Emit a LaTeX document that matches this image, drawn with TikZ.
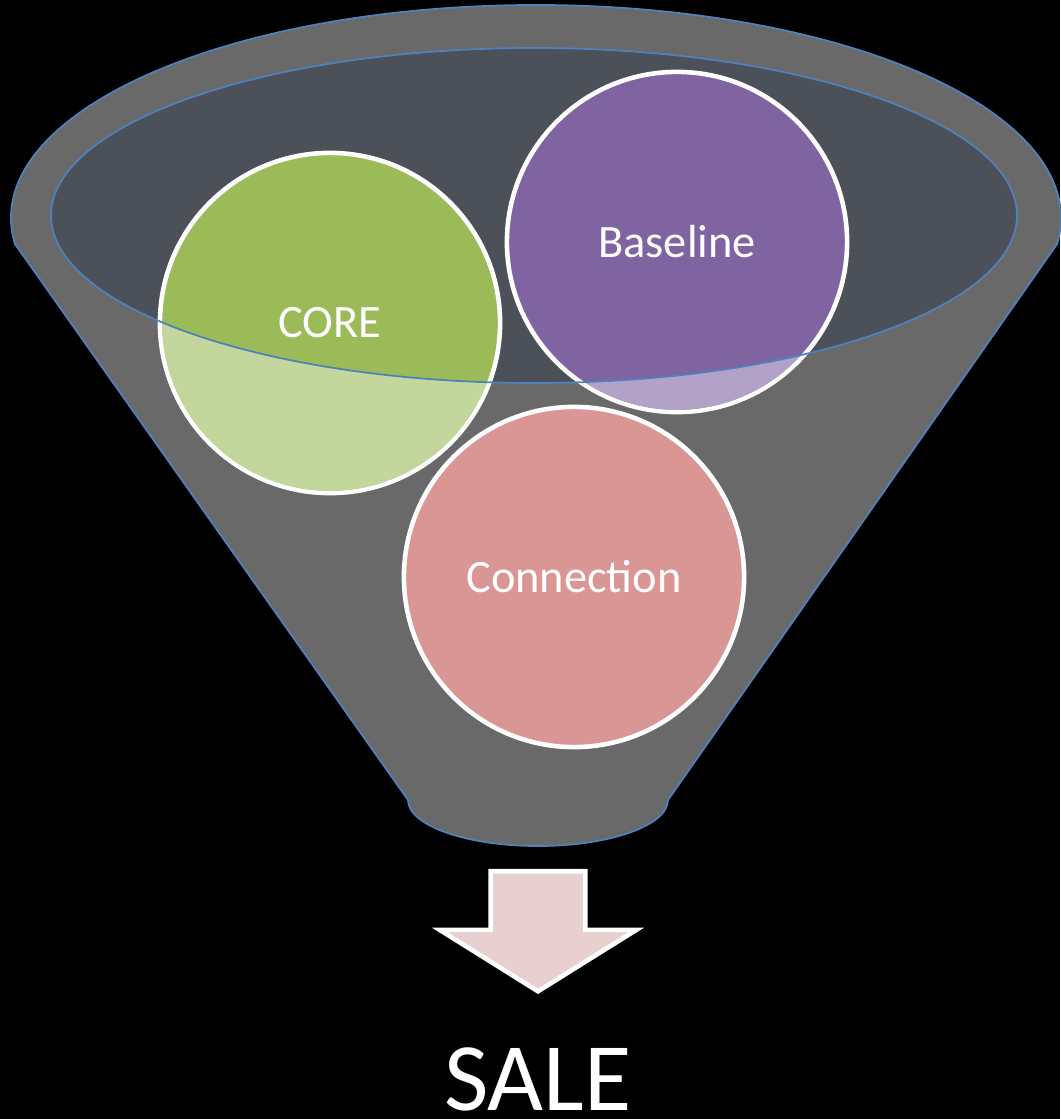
\documentclass[tikz,border=0pt]{standalone}
\usepackage{fontspec}
\setmainfont{Carlito}
\usetikzlibrary{shapes.arrows}
\definecolor{funnelgray}{HTML}{696969}
\definecolor{mouthgray}{HTML}{4C5059}
\definecolor{rimblue}{HTML}{4F81BD}
\definecolor{coregreen}{HTML}{9BBB59}
\definecolor{corelight}{HTML}{C3D69B}
\definecolor{basepurple}{HTML}{8064A2}
\definecolor{baselight}{HTML}{B3A2C7}
\definecolor{connpink}{HTML}{D99694}
\definecolor{salepink}{HTML}{E8D0D0}
\tikzset{
  bubble/.style={circle, draw=white, line width=1.3pt, minimum size=3.4cm, text=white, font=\fontsize{13.2}{16}\selectfont},
  rim/.style={rimblue, line width=0.5pt}
}

\begin{document}
\begin{tikzpicture}[x=0.01cm, y=-0.01cm]
  \useasboundingbox (0,0) rectangle (1060,1119);
  \fill[black] (0,0) rectangle (1060,1119);
  \draw[rim, fill=funnelgray] (14.91,243.96) arc[start angle=173, end angle=367, x radius=525, y radius=213] -- (668,800) arc[start angle=0, end angle=180, x radius=130, y radius=46] -- cycle;
  \fill[mouthgray] (534,215.5) ellipse[x radius=483, y radius=167.5];

  \node[bubble, fill=coregreen] (core) at (330,323) {CORE};
  \node[bubble, fill=basepurple] (baseline) at (677,242) {Baseline};
  \node[bubble, fill=connpink] (connection) at (574,577) {Connection};

  \foreach \c/\col in {core/corelight, baseline/baselight} {
    \begin{scope}
      \clip (\c.center) circle[radius=168];
      \fill[\col, even odd rule] (\c.center) circle[radius=170] (534,215.5) ellipse[x radius=483, y radius=167.5];
    \end{scope}
  }
  \draw[rim] (534,215.5) ellipse[x radius=483, y radius=167.5];

  \node[single arrow, draw=white, fill=salepink, line width=1.3pt, rotate=-90, anchor=tip, minimum height=1.2cm, single arrow head extend=0.51cm, single arrow tip angle=116, inner xsep=0pt, inner ysep=0.45cm] (flow) at (538,994) {};
  \node[anchor=base, inner sep=0pt, text=white, font=\fontsize{27.5}{33}\selectfont] (sale) at (538,1110) {SALE};
\end{tikzpicture}
\end{document}
